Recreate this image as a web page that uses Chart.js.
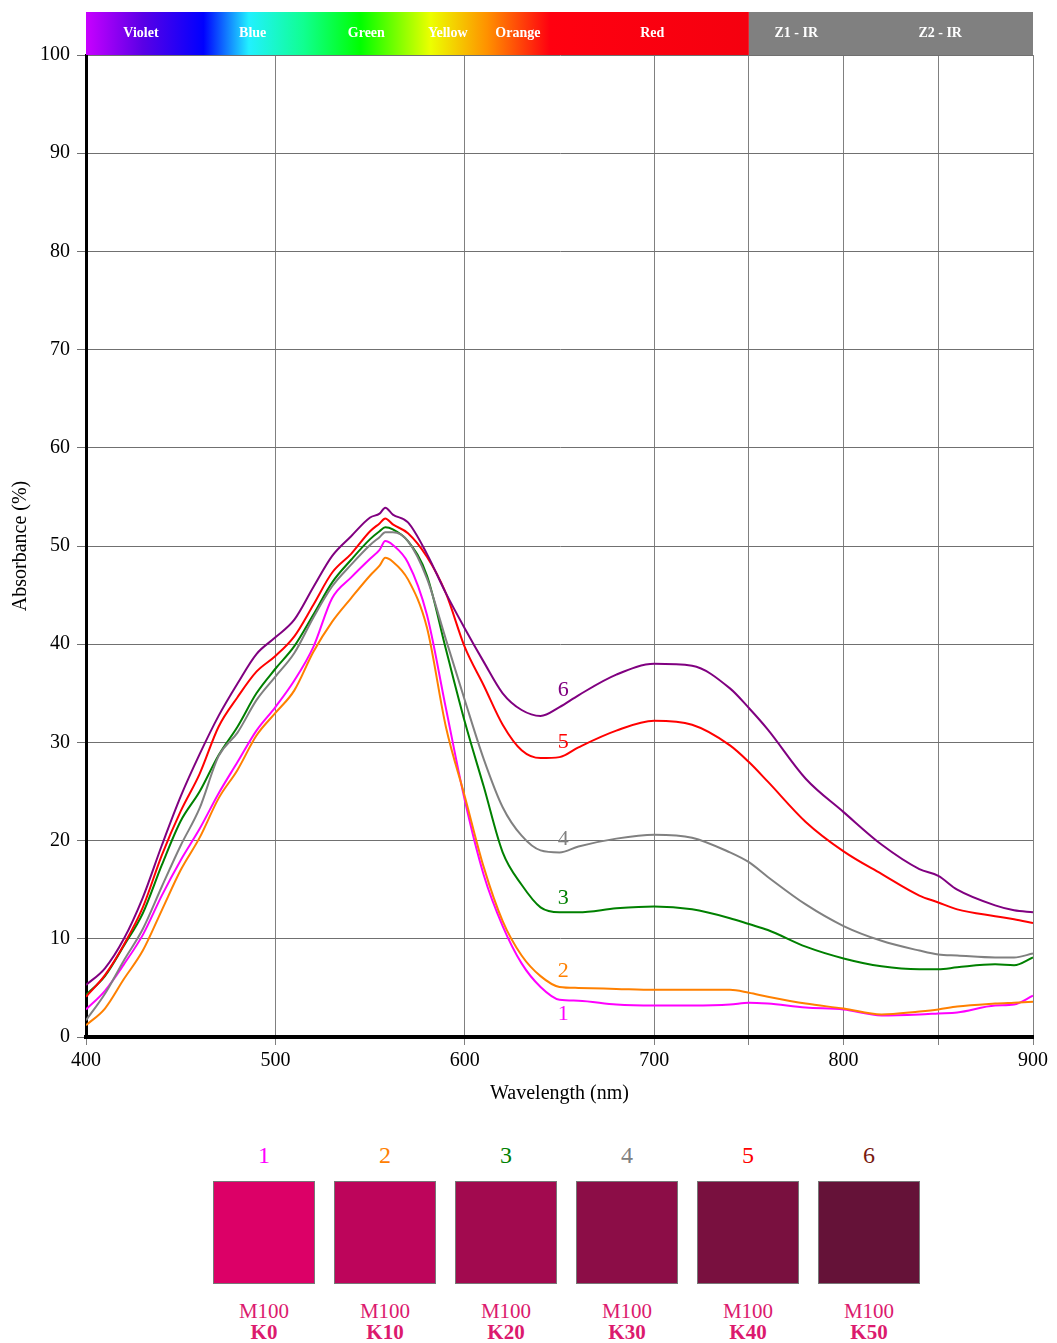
<!DOCTYPE html>
<html lang="en">
  <head>
    <meta charset="UTF-8" />
    <title>Absorbance spectra M100 K0-K50</title>
    <style>
      * {
        margin: 0;
        padding: 0;
        box-sizing: border-box;
      }
      body {
        width: 1057px;
        height: 1343px;
        background: #fff;
        position: relative;
        font-family: "Liberation Serif", "DejaVu Serif", serif;
      }
      #chartBox {
        position: absolute;
        left: 0;
        top: 0;
      }
      .swatches {
        position: absolute;
        left: 213px;
        top: 1138px;
        display: flex;
        gap: 19px;
      }
      .sw {
        width: 102px;
        text-align: center;
      }
      .sw .num {
        font-size: 24px;
        height: 36px;
        line-height: 34px;
      }
      .sw .box {
        width: 102px;
        height: 103px;
        margin-top: 7px;
        border: 1px solid #777;
      }
      .sw .m {
        margin-top: 17px;
        font-size: 21px;
        line-height: 21px;
        color: #dc1a6e;
      }
      .sw .k {
        font-size: 21px;
        line-height: 21px;
        font-weight: bold;
        color: #dc1a6e;
      }
    </style>
  </head>
  <body>
    <div id="chartBox">
      <canvas id="myChart" width="1057" height="1110"></canvas>
    </div>
    <div class="swatches" id="swatches"></div>

    <script src="https://cdn.jsdelivr.net/npm/chart.js"></script>

    <script>
      // wavelengths (nm) at which the curves were read
      const wavelengths = [
        400, 410, 420, 430, 440, 450, 460, 470, 480, 490, 500, 510, 520, 530,
        540, 550, 555, 558, 562, 570, 580, 590, 600, 610, 620, 630, 640, 650,
        660, 680, 700, 720, 740, 750, 760, 780, 800, 820, 840, 850, 860, 880,
        890, 900,
      ];

      const k0 = [
        2.8, 4.7, 7.4, 10.4, 14.4, 18.0, 21.2, 24.8, 28.0, 31.2, 33.6, 36.3,
        39.7, 44.7, 46.8, 48.7, 49.6, 50.5, 50.1, 48.3, 43.0, 33.5, 24.1, 16.5,
        11.3, 7.5, 5.1, 3.8, 3.7, 3.3, 3.2, 3.2, 3.3, 3.5, 3.4, 3.0, 2.8, 2.2,
        2.3, 2.4, 2.5, 3.2, 3.3, 4.2,
      ];
      const k10 = [
        1.2, 2.9, 5.9, 8.8, 12.9, 17.0, 20.3, 24.3, 27.2, 30.7, 33.0, 35.3,
        39.2, 42.3, 44.7, 47.0, 48.0, 48.8, 48.4, 46.6, 41.7, 31.6, 24.5, 17.3,
        11.8, 8.3, 6.2, 5.1, 5.0, 4.9, 4.8, 4.8, 4.8, 4.5, 4.1, 3.4, 2.9, 2.3,
        2.6, 2.8, 3.1, 3.4, 3.5, 3.6,
      ];
      const k20 = [
        4.3, 6.2, 9.3, 12.6, 17.5, 22.0, 25.0, 28.7, 31.6, 35.0, 37.5, 39.8,
        43.0, 46.3, 48.6, 50.7, 51.5, 51.9, 51.7, 50.5, 47.0, 39.5, 32.1, 25.5,
        18.8, 15.5, 13.2, 12.7, 12.7, 13.1, 13.3, 13.0, 12.1, 11.5, 10.9, 9.2,
        8.0, 7.2, 6.9, 6.9, 7.1, 7.4, 7.3, 8.1,
      ];
      const k30 = [
        1.7, 4.4, 7.8, 11.0, 15.3, 19.5, 23.3, 28.6, 31.0, 34.3, 36.7, 39.1,
        42.7, 45.9, 48.1, 50.1, 50.9, 51.4, 51.4, 50.5, 46.7, 40.5, 34.3, 28.3,
        23.4, 20.5, 19.0, 18.8, 19.4, 20.2, 20.6, 20.3, 18.8, 17.8, 16.3, 13.5,
        11.3, 9.8, 8.8, 8.4, 8.3, 8.1, 8.1, 8.5,
      ];
      const k40 = [
        4.1, 6.3, 9.4, 13.2, 18.5, 23.0, 26.8, 31.6, 34.6, 37.2, 38.8, 40.8,
        44.0, 47.3, 49.2, 51.5, 52.3, 52.8, 52.2, 51.3, 48.9, 45.2, 39.7, 35.8,
        31.8, 29.2, 28.4, 28.5, 29.5, 31.2, 32.2, 31.8, 29.7, 28.0, 26.0, 21.9,
        18.9, 16.6, 14.4, 13.7, 13.0, 12.3, 12.0, 11.6,
      ];
      const k50 = [
        5.3, 7.0, 10.0, 14.2, 19.5, 24.5, 28.8, 32.7, 36.0, 39.0, 40.7, 42.5,
        45.8, 49.0, 51.0, 52.9, 53.3, 53.9, 53.2, 52.4, 49.2, 45.2, 41.6, 38.2,
        35.0, 33.3, 32.7, 33.6, 34.8, 36.9, 38.0, 37.8, 35.5, 33.5, 31.3, 26.3,
        22.9, 19.6, 17.1, 16.4, 15.0, 13.4, 12.9, 12.7,
      ];

      const seriesNames = ["1", "2", "3", "4", "5", "6"];
      const seriesColors = ["#ff00ff", "#ff8000", "#008000", "#808080", "#ff0000", "#800080"];
      const numberColors = ["#ff00ff", "#ff8000", "#008000", "#808080", "#ff0000", "#7a1a10"];
      // where the curve numbers sit (nm, %)
      const labelNm = [652, 652, 652, 652, 652, 652];
      const labelVal = [2.3, 6.7, 14.1, 20.1, 30.0, 35.3];

      const swatchColors = ["#dc0067", "#bd055b", "#a20a4f", "#8c0d47", "#79103f", "#651238"];
      const swatchK = ["K0", "K10", "K20", "K30", "K40", "K50"];

      // spectrum band
      const bandStops = [
        [400, "#c800ff"],
        [430, "#5a00e6"],
        [462, "#0000ff"],
        [486, "#22f0ff"],
        [515, "#10ff90"],
        [545, "#00ff00"],
        [582, "#ecff00"],
        [612, "#ff9000"],
        [645, "#ff0010"],
        [750, "#f5000f"],
      ];
      const bandNames = ["Violet", "Blue", "Green", "Yellow", "Orange", "Red", "Z1 - IR", "Z2 - IR"];
      const bandNm = [429, 488, 548, 591, 628, 699, 775, 851];

      // vertical grid lines that the chart shows
      const xGridAt = [400, 500, 600, 700, 750, 800, 850, 900];

      const allSeries = [k0, k10, k20, k30, k40, k50];

      const datasets = allSeries.map((vals, i) => ({
        label: seriesNames[i],
        data: wavelengths.map((w, j) => ({ x: w, y: vals[j] })),
        borderColor: seriesColors[i],
        borderWidth: 2,
        pointRadius: 0,
        cubicInterpolationMode: "monotone",
        fill: false,
      }));
      // draw 6 first so lower numbers lie on top
      datasets.reverse();

      const serif = "'Liberation Serif', 'DejaVu Serif', serif";

      const bandPlugin = {
        id: "band",
        afterDraw(chart) {
          const { ctx, chartArea, scales } = chart;
          const x = scales.x;
          const top = 12;
          const h = chartArea.top - top;
          const x750 = x.getPixelForValue(750);
          const x0 = chartArea.left;
          const grad = ctx.createLinearGradient(x0, 0, x750, 0);
          bandStops.forEach(([nm, c]) => {
            grad.addColorStop((x.getPixelForValue(nm) - x0) / (x750 - x0), c);
          });
          ctx.save();
          ctx.fillStyle = grad;
          ctx.fillRect(x0, top, x750 - x0, h);
          ctx.fillStyle = "#808080";
          ctx.fillRect(x750, top, chartArea.right - x750, h);
          ctx.fillStyle = "#fff";
          ctx.font = "bold 14px " + serif;
          ctx.textAlign = "center";
          ctx.textBaseline = "middle";
          bandNames.forEach((n, i) => {
            ctx.fillText(n, x.getPixelForValue(bandNm[i]), top + h / 2);
          });
          ctx.restore();
        },
        afterDatasetsDraw(chart) {
          const { ctx, scales } = chart;
          ctx.save();
          ctx.font = "22px " + serif;
          ctx.textAlign = "center";
          ctx.textBaseline = "middle";
          seriesNames.forEach((n, i) => {
            ctx.fillStyle = seriesColors[i];
            ctx.fillText(n, scales.x.getPixelForValue(labelNm[i]), scales.y.getPixelForValue(labelVal[i]));
          });
          ctx.restore();
        },
      };

      const config = {
        type: "line",
        data: { datasets: datasets },
        options: {
          responsive: false,
          animation: false,
          layout: { padding: { top: 55, right: 24, left: 0, bottom: 0 } },
          plugins: {
            legend: { display: false },
            tooltip: { enabled: false },
          },
          scales: {
            x: {
              type: "linear",
              min: 400,
              max: 900,
              afterFit: (s) => {
                s.height = 73;
              },
              ticks: {
                stepSize: 50,
                color: "#000",
                padding: 4,
                maxRotation: 0,
                font: { family: serif, size: 20 },
                callback: (v) => (v % 100 === 0 ? v : ""),
              },
              grid: {
                color: (c) => (xGridAt.includes(c.tick && c.tick.value) ? "#808080" : "rgba(0,0,0,0)"),
                lineWidth: 1,
                tickLength: 8,
              },
              border: { color: "#000", width: 4 },
              title: {
                display: true,
                text: "Wavelength (nm)",
                color: "#000",
                font: { family: serif, size: 20 },
                padding: { top: 2 },
              },
            },
            y: {
              min: 0,
              max: 100,
              afterFit: (s) => {
                s.width = 86;
              },
              ticks: {
                stepSize: 10,
                color: "#000",
                padding: 7,
                font: { family: serif, size: 20 },
              },
              grid: { color: "#707070", lineWidth: 1, tickLength: 9 },
              border: { color: "#000", width: 3 },
              title: {
                display: true,
                text: "Absorbance (%)",
                color: "#000",
                font: { family: serif, size: 20 },
                padding: { top: 9, bottom: 0 },
              },
            },
          },
        },
        plugins: [bandPlugin],
      };

      const myChart = new Chart(document.getElementById("myChart"), config);

      // swatch row
      const row = document.getElementById("swatches");
      swatchColors.forEach((c, i) => {
        const d = document.createElement("div");
        d.className = "sw";
        d.innerHTML =
          '<div class="num" style="color:' + numberColors[i] + '">' + seriesNames[i] + "</div>" +
          '<div class="box" style="background:' + c + '"></div>' +
          '<div class="m">M100</div>' +
          '<div class="k">' + swatchK[i] + "</div>";
        row.appendChild(d);
      });
    </script>
  </body>
</html>
